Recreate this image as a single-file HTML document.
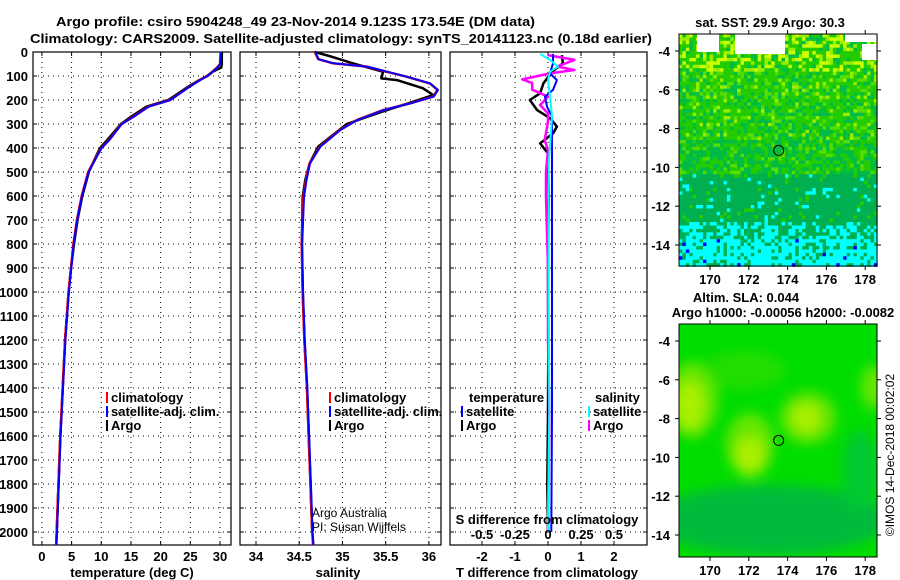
<!DOCTYPE html>
<html><head><meta charset="utf-8"><style>
body{margin:0;background:#fff}
svg{display:block;font-family:"Liberation Sans",sans-serif}
.t{font-weight:bold;font-size:13px;fill:#000}
</style></head><body>
<svg id="c" width="900" height="580" viewBox="0 0 900 580">
<defs>
<filter id="bl" x="-50%" y="-50%" width="200%" height="200%"><feGaussianBlur stdDeviation="6"/></filter>
<clipPath id="cm2"><rect x="679" y="324" width="198" height="233"/></clipPath>
</defs>
<text class="t" x="56" y="26" textLength="479" lengthAdjust="spacingAndGlyphs">Argo profile: csiro 5904248_49 23-Nov-2014 9.123S 173.54E (DM data)</text>
<text class="t" x="30" y="43" textLength="622" lengthAdjust="spacingAndGlyphs">Climatology: CARS2009. Satellite-adjusted climatology: synTS_20141123.nc (0.18d earlier)</text>
<g id="plots"></g>
<g id="maps"></g>
<text class="t" x="770" y="27" text-anchor="middle">sat. SST: 29.9 Argo: 30.3</text>
<text class="t" x="746" y="302" text-anchor="middle">Altim. SLA: 0.044</text>
<text class="t" x="783" y="317" text-anchor="middle">Argo h1000: -0.00056 h2000: -0.0082</text>
<text x="894" y="455" font-size="12" text-anchor="middle" transform="rotate(-90 894 455)">©IMOS 14-Dec-2018 00:02:02</text>
</svg>
<script>
// ---- profile data (depth m) ----
const tDepth=[0,50,65,80,100,117,150,200,228,270,300,367,400,436,500,600,700,800,900,1000,1200,1400,1600,1800,2000,2055];
const tClim=[30.1,30.0,29.5,28.8,27.8,26.6,24.5,21.6,17.9,15.4,13.4,11.3,10.0,9.2,7.8,6.7,5.9,5.3,4.9,4.5,3.9,3.5,3.1,2.8,2.5,2.4];
const tArgo=[30.3,30.3,30.2,28.9,27.9,26.5,24.3,21.3,17.6,15.0,13.3,11.0,9.8,9.1,7.9,6.8,6.0,5.4,4.9,4.5,3.9,3.5,3.1,2.8,2.5,2.4];
const sDepth=[0,30,47,61,82,103,131,158,186,214,242,283,325,394,464,533,603,800,1000,1200,1400,1600,1800,2000,2055];
const sClim=[34.68,34.72,34.89,35.28,35.51,35.74,36.01,36.1,36.05,35.78,35.47,35.17,34.97,34.74,34.62,34.58,34.55,34.53,34.54,34.56,34.59,34.61,34.63,34.65,34.66];
const sArgoDepth=[0,18,47,82,110,117,151,179,207,256,300,394,464,533,603,800,1000,1200,1400,1600,1800,2000];
const sArgo=[34.68,34.86,35.12,35.47,35.45,35.63,35.93,36.05,35.82,35.4,35.05,34.72,34.62,34.57,34.54,34.53,34.54,34.56,34.59,34.61,34.63,34.65];
// difference panel
const dDepthA=[13,47,82,131,172,200,242,276,311,339,381,422,600,900,1200,1500,1800,2000];
const dTArgo=[0.42,0.45,0.12,-0.14,-0.24,-0.55,-0.33,0.06,0.27,0.15,-0.24,0,0.02,0,0.01,0,-0.02,0];
const dDepthSat=[8,47,89,117,158,186,228,269,464,1000,1500,2000];
const dTSat=[0.15,0.15,0.06,0.27,0.15,-0.09,-0.03,0.12,0.12,0.12,0.12,0.1];
const dDepthSA=[13,33,61,75,89,114,129,157,186,221,256,290,367,408,500,600,900,1200,1500,2000];
const dSArgo=[0,0.2,0.07,0.2,0.015,-0.195,-0.12,-0.12,0,-0.06,0,0,-0.025,0,-0.015,-0.015,0,0,0.01,0];
const dDepthSS=[8,33,61,82,117,186,269,464,1000,1500,2000];
const dSSat=[-0.06,0.015,0.075,0.015,0,0.015,0.03,0.005,0.005,0.01,0];
const depthTicks=[0,100,200,300,400,500,600,700,800,900,1000,1100,1200,1300,1400,1500,1600,1700,1800,1900,2000];
const tTicks=[0,5,10,15,20,25,30];
const sTicks=[34,34.5,35,35.5,36];
const dTTicks=[-2,-1,0,1,2];
const dSTicks=[-0.5,-0.25,0,0.25,0.5];
const lonTicks=[170,172,174,176,178];
const latTicks=[-4,-6,-8,-10,-12,-14];
const argoLon=173.54, argoLat=-9.123;

const NS='http://www.w3.org/2000/svg';
function mk(tag,attrs,parent,txt){const e=document.createElementNS(NS,tag);for(const k in attrs)e.setAttribute(k,attrs[k]);if(txt!==undefined)e.textContent=txt;parent.appendChild(e);return e;}
const Y0=52,YS=0.24;
const yD=d=>Y0+d*YS;
const G=document.getElementById('plots');
const panels=[
 {x0:33,x1:231,vmin:-1.5,vmax:31.85,ticks:tTicks,name:'temperature'},
 {x0:240,x1:441,vmin:33.815,vmax:36.14,ticks:sTicks,name:'salinity'},
 {x0:450,x1:647,vmin:-2.97,vmax:3.0,ticks:dTTicks,name:'difference'}];
panels.forEach((p,i)=>{
 p.x=v=>p.x0+(v-p.vmin)/(p.vmax-p.vmin)*(p.x1-p.x0);
 const g=mk('g',{},G);
 
 
 depthTicks.forEach(d=>{mk('line',{x1:p.x0,x2:p.x1,y1:yD(d),y2:yD(d),stroke:'#000','stroke-dasharray':'1 4','stroke-width':1},g);
  mk('line',{x1:p.x0,x2:p.x0+4,y1:yD(d),y2:yD(d),stroke:'#000'},g);mk('line',{x1:p.x1-4,x2:p.x1,y1:yD(d),y2:yD(d),stroke:'#000'},g);});
 p.ticks.forEach(v=>{const X=p.x(v);mk('line',{x1:X,x2:X,y1:Y0,y2:545,stroke:'#000','stroke-dasharray':'1 4'},g);
  mk('line',{x1:X,x2:X,y1:541,y2:545,stroke:'#000'},g);mk('line',{x1:X,x2:X,y1:Y0,y2:Y0+4,stroke:'#000'},g);
  const t=mk('text',{x:X,y:561,class:'t','text-anchor':'middle'},g,String(v));
  
  });
 mk('rect',{x:p.x0,y:Y0,width:p.x1-p.x0,height:545-Y0,fill:'none',stroke:'#000','stroke-width':1.2},g);
});
depthTicks.forEach(d=>{const t=mk('text',{x:28,y:yD(d)+5,class:'t','text-anchor':'end'},G,String(d));
 
 });
function line(p,xs,ds,col,w,name){
 const pts=xs.map((v,i)=>p.x(v).toFixed(1)+','+yD(ds[i]).toFixed(1)).join(' ');
 const e=mk('polyline',{points:pts,fill:'none',stroke:col,'stroke-width':w,'stroke-linejoin':'round'},G);
 
 }
const P1=panels[0],P2=panels[1],P3=panels[2];
line(P1,tArgo,tDepth,'#000',2.5,'temp-argo-line');
line(P1,tClim,tDepth,'#f00',2.5,'temp-climatology-line');
line(P1,tClim.map(v=>v+0.05),tDepth,'#00f',2,'temp-satellite-line');
line(P2,sArgo,sArgoDepth,'#000',2.5,'salinity-argo-line');
line(P2,sClim,sDepth,'#f00',2.5,'salinity-climatology-line');
line(P2,sClim.map(v=>v+0.005),sDepth,'#00f',2,'salinity-satellite-line');
// S diff axis: 0.25 S = 1 T unit
const sx=v=>v*4;
line(P3,dTArgo,dDepthA,'#000',2.5,'tdiff-argo-line');
line(P3,dSArgo.map(sx),dDepthSA,'#f0f',2.5,'sdiff-argo-line');
line(P3,dTSat,dDepthSat,'#00f',2,'tdiff-satellite-line');
line(P3,dSSat.map(sx),dDepthSS,'#0ff',2,'sdiff-satellite-line');
dSTicks.forEach(v=>{const t=mk('text',{x:P3.x(sx(v)),y:539,class:'t','text-anchor':'middle'},G,String(v));
 
 });
function txt(x,y,s,name,extra){const t=mk('text',Object.assign({x:x,y:y,class:'t'},extra||{}),G,s);
 
 return t;}
txt(547,524,'S difference from climatology','sdiff-axis-title',{'text-anchor':'middle'});
txt(132,577,'temperature (deg C)','temp-axis-title',{'text-anchor':'middle'});
txt(338,577,'salinity','salinity-axis-title',{'text-anchor':'middle'});
txt(547,577,'T difference from climatology','tdiff-axis-title',{'text-anchor':'middle'});
const a1=txt(312,517,'Argo Australia','credit-line-1');a1.setAttribute('class','');a1.setAttribute('font-size','12');
const a2=txt(312,531,'PI: Susan Wijffels','credit-line-2');a2.setAttribute('class','');a2.setAttribute('font-size','12');
function leg(x,y,col,s,name){const r=mk('rect',{x:x,y:y-10,width:2,height:11,fill:col},G);
 
 
 txt(x+5,y,s,name);}
leg(106,402,'#f00','climatology','temp-legend-climatology');
leg(106,416,'#00f','satellite-adj. clim.','temp-legend-satellite');
leg(106,430,'#000','Argo','temp-legend-argo');
leg(329,402,'#f00','climatology','sal-legend-climatology');
leg(329,416,'#00f','satellite-adj. clim.','sal-legend-satellite');
leg(329,430,'#000','Argo','sal-legend-argo');
txt(469,402,'temperature','diff-legend-temp-header');
leg(461,416,'#00f','satellite','diff-legend-temp-satellite');
leg(461,430,'#000','Argo','diff-legend-temp-argo');
txt(595,402,'salinity','diff-legend-sal-header');
leg(588,416,'#0ff','satellite','diff-legend-sal-satellite');
leg(588,430,'#f0f','Argo','diff-legend-sal-argo');

// ---- maps ----
const M=document.getElementById('maps');
const lonX=v=>710+(v-170)*19.4;
function mapAxes(y0,y1,name){
 const latY=v=>y0+17+(-4-v)*19.4;
 const g=mk('g',{},M);
 
 
 lonTicks.forEach(v=>{mk('line',{x1:lonX(v),x2:lonX(v),y1:y0-4,y2:y0,stroke:'#000'},g);mk('line',{x1:lonX(v),x2:lonX(v),y1:y1,y2:y1+4,stroke:'#000'},g);
  const t=mk('text',{x:lonX(v),y:y1+18,class:'t','text-anchor':'middle'},g,String(v));
  
  });
 latTicks.forEach(v=>{mk('line',{x1:675,x2:679,y1:latY(v),y2:latY(v),stroke:'#000'},g);mk('line',{x1:877,x2:881,y1:latY(v),y2:latY(v),stroke:'#000'},g);
  const t=mk('text',{x:670,y:latY(v)+5,class:'t','text-anchor':'end'},g,String(v));
  
  });
 mk('rect',{x:679,y:y0,width:198,height:y1-y0,fill:'none',stroke:'#000'},g);
 const c=mk('circle',{cx:lonX(argoLon),cy:latY(argoLat),r:5,fill:'none',stroke:'#000'},g);
 
 
}
// SST map cells (image texture)
const sg=mk('g',{},M);


let seed=7;const rnd=()=>{seed=(seed*16807)%2147483647;return seed/2147483647;};
const cs=3.42;
for(let j=0;j<68;j++){for(let i=0;i<58;i++){
 const y=34+j*cs,x=679+i*cs,f=j/68,r=rnd();let c;
 if(f<0.15){c=r<0.25?'#ccff00':r<0.45?'#99ee00':r<0.85?'#22cc00':'#00bb44';}
 else if(f<0.45){c=r<0.08?'#99ee00':r<0.6?'#22cc00':r<0.75?'#55dd00':'#00bb44';}
 else if(f<0.6){c=r<0.5?'#00bb44':r<0.85?'#22cc00':'#55dd00';}
 else if(f<0.8){c=r<0.85?'#00b050':r<0.93?'#22cc00':'#00ffff';}
 else if(f<0.87){c=r<0.55?'#00b050':'#00ffff';}
 else{c=r<0.7?'#00ffff':r<0.97?'#00b050':'#0000ff';}
 mk('rect',{x:x.toFixed(2),y:y.toFixed(2),width:cs+0.3,height:cs+0.3,fill:c},sg);}}
[[697,34,22,18],[735,34,50,20],[845,34,32,8],[862,44,15,16]].forEach(r=>mk('rect',{x:r[0],y:r[1],width:r[2],height:r[3],fill:'#fff'},sg));
mapAxes(34,266,'sst-map');
// SLA map
const lg=mk('g',{'clip-path':'url(#cm2)'},M);


mk('rect',{x:679,y:324,width:198,height:233,fill:'#00dd00'},lg);
const bl=mk('g',{filter:'url(#bl)'},lg);
[[770,520,120,35,'#00bb3a'],[860,470,18,40,'#00c830'],[692,400,26,38,'#66e600'],[750,445,24,32,'#66e600'],[808,418,28,26,'#66e600'],[873,387,12,22,'#66e600'],
 [690,405,14,24,'#aaf000'],[750,455,14,18,'#aaf000'],[806,418,14,14,'#aaf000'],[745,370,40,20,'#22dd00']].forEach(e=>
 mk('ellipse',{cx:e[0],cy:e[1],rx:e[2],ry:e[3],fill:e[4]},bl));
mapAxes(324,557,'sla-map');
</script>
</body></html>
